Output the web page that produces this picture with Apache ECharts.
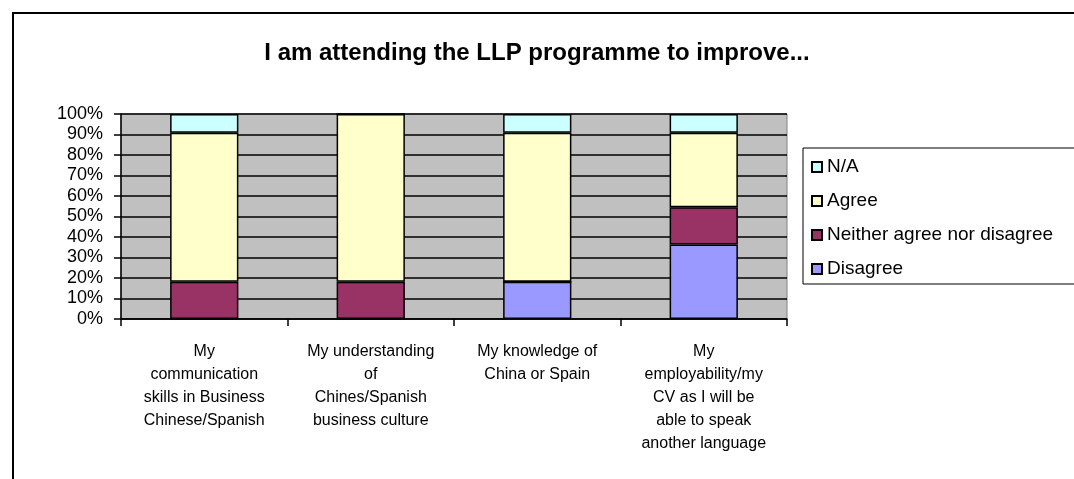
<!DOCTYPE html>
<html>
<head>
<meta charset="utf-8">
<script src="https://cdn.jsdelivr.net/npm/echarts@6.0.0/dist/echarts.min.js"></script>
<style>
  html, body { margin: 0; padding: 0; background: #fff; }
  #chart { width: 1074px; height: 479px; }
</style>
</head>
<body>
<div id="chart"></div>
<script>
// survey answers, share of respondents (%)
const categories = [
  'My\ncommunication\nskills in Business\nChinese/Spanish',
  'My understanding\nof\nChines/Spanish\nbusiness culture',
  'My knowledge of\nChina or Spain',
  'My\nemployability/my\nCV as I will be\nable to speak\nanother language'
];
const disagree = [0, 0, 18.18, 36.36];
const neither = [18.18, 18.18, 0, 18.18];
const agree = [72.73, 81.82, 72.73, 36.36];
const notApplicable = [9.09, 0, 9.09, 9.09];
const yTicks = [0, 10, 20, 30, 40, 50, 60, 70, 80, 90, 100];

const FONT = '"Liberation Sans", Arial, sans-serif';

const chart = echarts.init(document.getElementById('chart'), null, { renderer: 'canvas' });

function barSeries(name, data, color) {
  return {
    name: name,
    type: 'bar',
    stack: 'total',
    data: data,
    barWidth: '41%',
    itemStyle: {
      color: color,
      borderColor: '#000',
      borderWidth: 1.5
    },
    emphasis: { disabled: true }
  };
}

const option = {
  backgroundColor: '#fff',
  animation: false,
  textStyle: { fontFamily: FONT, color: '#000' },
  title: {
    text: 'I am attending the LLP programme to improve...',
    left: 'center',
    top: 36,
    textStyle: { fontFamily: FONT, fontSize: 24, fontWeight: 'bold', color: '#000' }
  },
  graphic: [{
    type: 'rect',
    shape: { x: 13, y: 13, width: 1200, height: 600 },
    style: { fill: 'none', stroke: '#000', lineWidth: 2 },
    silent: true
  }],
  legend: {
    orient: 'vertical',
    left: 803,
    top: 148,
    data: ['N/A', 'Agree', 'Neither agree nor disagree', 'Disagree'],
    icon: 'rect',
    itemWidth: 10,
    itemHeight: 10,
    itemGap: 14,
    padding: [9, 60, 5, 8],
    borderColor: '#000',
    borderWidth: 1,
    selectedMode: false,
    textStyle: { fontFamily: FONT, fontSize: 19, color: '#000', lineHeight: 20 }
  },
  grid: {
    left: 121,
    right: 287,
    top: 114,
    bottom: 160,
    show: true,
    backgroundColor: '#c0c0c0',
    borderColor: '#808080',
    borderWidth: 1
  },
  xAxis: {
    type: 'category',
    data: categories,
    axisLine: { lineStyle: { color: '#000', width: 1.5 } },
    axisTick: { show: true, length: 7, lineStyle: { color: '#000', width: 1.5 } },
    axisLabel: {
      interval: 0,
      margin: 21,
      fontFamily: FONT,
      fontSize: 16,
      lineHeight: 23,
      color: '#000',
      align: 'center'
    },
    splitLine: { show: false }
  },
  yAxis: {
    type: 'value',
    min: yTicks[0],
    max: yTicks[yTicks.length - 1],
    interval: 10,
    axisLine: { show: true, lineStyle: { color: '#000', width: 1.5 } },
    axisTick: { show: true, length: 7, lineStyle: { color: '#000', width: 1.5 } },
    axisLabel: {
      margin: 18,
      fontFamily: FONT,
      fontSize: 18,
      color: '#000',
      formatter: '{value}%'
    },
    splitLine: { show: true, lineStyle: { color: '#000', width: 1.5 } }
  },
  series: [
    barSeries('Disagree', disagree, '#9999ff'),
    barSeries('Neither agree nor disagree', neither, '#993366'),
    barSeries('Agree', agree, '#ffffcc'),
    barSeries('N/A', notApplicable, '#ccffff')
  ]
};

chart.setOption(option);
window.addEventListener('resize', () => chart.resize());
</script>
</body>
</html>
